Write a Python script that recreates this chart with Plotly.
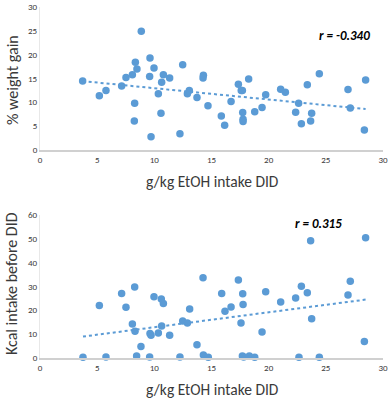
import numpy as np
import plotly.graph_objects as go

# Top chart: % weight gain vs g/kg EtOH intake DID
wg_x = [3.73, 5.19, 5.77, 7.14, 7.52, 8.08, 8.34, 8.48, 8.28, 8.25, 8.86, 9.62, 9.59, 9.97,
        9.71, 10.35, 10.64, 10.79, 10.58, 11.34, 12.48, 12.24, 12.89, 13.06, 13.73, 14.29,
        14.26, 14.69, 15.86, 16.15, 16.71, 17.35, 17.6, 17.7, 18.25, 17.73, 17.76, 17.76,
        18.78, 19.42, 19.74, 21.05, 21.46, 22.36, 22.62, 22.86, 23.38, 23.67, 23.76, 24.43,
        26.94, 27.14, 28.48, 28.37]
wg_y = [14.5, 11.4, 12.5, 13.45, 15.2, 15.8, 18.4, 17.0, 9.8, 6.1, 24.9, 19.3, 15.4, 17.2,
        2.8, 11.8, 14.2, 15.8, 7.7, 15.1, 17.9, 3.4, 11.8, 12.5, 11.0, 15.7,
        15.1, 9.3, 7.15, 5.2, 10.2, 13.8, 12.5, 12.5, 14.9, 7.85, 6.45, 6.0,
        8.0, 8.9, 11.6, 12.75, 12.1, 7.9, 9.8, 5.5, 13.7, 6.1, 7.7, 16.0,
        12.7, 8.8, 14.7, 4.2]

# Bottom chart: Kcal intake before DID vs g/kg EtOH intake DID
kc_x = [3.76, 5.19, 5.77, 7.14, 7.52, 8.08, 8.28, 8.31, 8.45, 8.83, 9.59, 9.62, 9.71, 9.97,
        10.35, 10.61, 10.79, 10.64, 11.34, 12.24, 12.48, 12.89, 13.09, 13.73, 14.26, 14.29,
        14.72, 15.89, 16.18, 16.71, 17.35, 17.58, 17.73, 17.76, 17.70, 17.81, 18.31, 18.78,
        19.42, 19.74, 21.05, 22.36, 22.65, 22.86, 23.38, 23.67, 23.76, 24.43, 26.94, 27.14,
        28.48, 28.37]
kc_y = [0.3, 22.0, 0.4, 27.1, 21.3, 14.3, 29.8, 11.2, 0.8, 4.8, 0.4, 10.3, 9.5, 25.7,
        10.5, 24.8, 22.9, 13.4, 9.5, 0.4, 15.5, 14.7, 20.6, 5.6, 33.7, 1.3,
        0.3, 27.1, 19.6, 21.4, 32.7, 14.7, 27.0, 22.4, 0.8, 0.4, 0.8, 0.3,
        10.9, 27.8, 23.5, 25.2, 0.3, 30.1, 27.4, 49.2, 16.5, 0.3, 26.4, 32.2,
        50.5, 6.9]

x_ticks = [0, 5, 10, 15, 20, 25, 30]
wg_ticks = [0, 5, 10, 15, 20, 25, 30]
kc_ticks = [0, 10, 20, 30, 40, 50, 60]
r_labels = ["r = -0.340", "r = 0.315"]
x_title = "g/kg EtOH intake DID"
y_titles = ["% weight gain", "Kcal intake before DID"]

BLUE = "#5B9BD5"
FONT = "Carlito, Lato, sans-serif"
TXT = "#3a3a3a"

fig = go.Figure()

def add_panel(xs, ys, xa, ya):
    fig.add_trace(go.Scatter(x=xs, y=ys, mode="markers", xaxis=xa, yaxis=ya,
                             marker=dict(color=BLUE, size=7.5), showlegend=False,
                             hoverinfo="skip", cliponaxis=False))
    xs_a = np.array(xs)
    m, b = np.polyfit(xs_a, np.array(ys), 1)
    lx = np.array([xs_a.min(), xs_a.max()])
    fig.add_trace(go.Scatter(x=lx, y=m * lx + b, mode="lines", xaxis=xa, yaxis=ya,
                             line=dict(color=BLUE, width=2, dash="dot"),
                             showlegend=False, hoverinfo="skip"))

add_panel(wg_x, wg_y, "x", "y")
add_panel(kc_x, kc_y, "x2", "y2")

H = 401.0
W = 392.0
xdom = [40 / W, 383 / W]

axis_common = dict(showgrid=False, zeroline=False, ticks="", automargin=False,
                   tickfont=dict(family=FONT, size=9, color=TXT))

fig.update_layout(
    width=392, height=401,
    margin=dict(l=0, r=0, t=0, b=0, autoexpand=False),
    paper_bgcolor="white", plot_bgcolor="white",
    xaxis=dict(domain=xdom, anchor="y", range=[0, 30], tickvals=x_ticks,
               showline=True, linecolor="#d0d0d0", linewidth=2, **axis_common),
    yaxis=dict(domain=[1 - 150 / H, 1 - 7 / H], anchor="x", range=[0, 30], tickvals=wg_ticks,
               showline=True, linecolor="#e8e8e8", linewidth=1, **axis_common),
    xaxis2=dict(domain=xdom, anchor="y2", range=[0, 30], tickvals=x_ticks,
                showline=True, linecolor="#d0d0d0", linewidth=2, **axis_common),
    yaxis2=dict(domain=[1 - 358 / H, 1 - 215 / H], anchor="x2", range=[0, 60], tickvals=kc_ticks,
                showline=True, linecolor="#e8e8e8", linewidth=1, **axis_common),
)

def ann(text, px, py, size, angle=0, color=TXT):
    fig.add_annotation(text=text, x=px / W, y=1 - py / H, xref="paper", yref="paper",
                       showarrow=False, textangle=angle, xanchor="center", yanchor="middle",
                       font=dict(family=FONT, size=size, color=color))

ann(x_title, 212, 181, 15.5)
ann(x_title, 212, 389, 15.5)
ann(y_titles[0], 12, 80, 16, -90)
ann(y_titles[1], 11, 284, 16, -90)
ann("<b><i>" + r_labels[0] + "</i></b>", 344, 36, 13, color="#000000")
ann("<b><i>" + r_labels[1] + "</i></b>", 318, 224, 13, color="#000000")

fig.write_html("out.html", config={"displayModeBar": False},
               post_script="document.body.style.margin='0';document.body.style.overflow='hidden';")
